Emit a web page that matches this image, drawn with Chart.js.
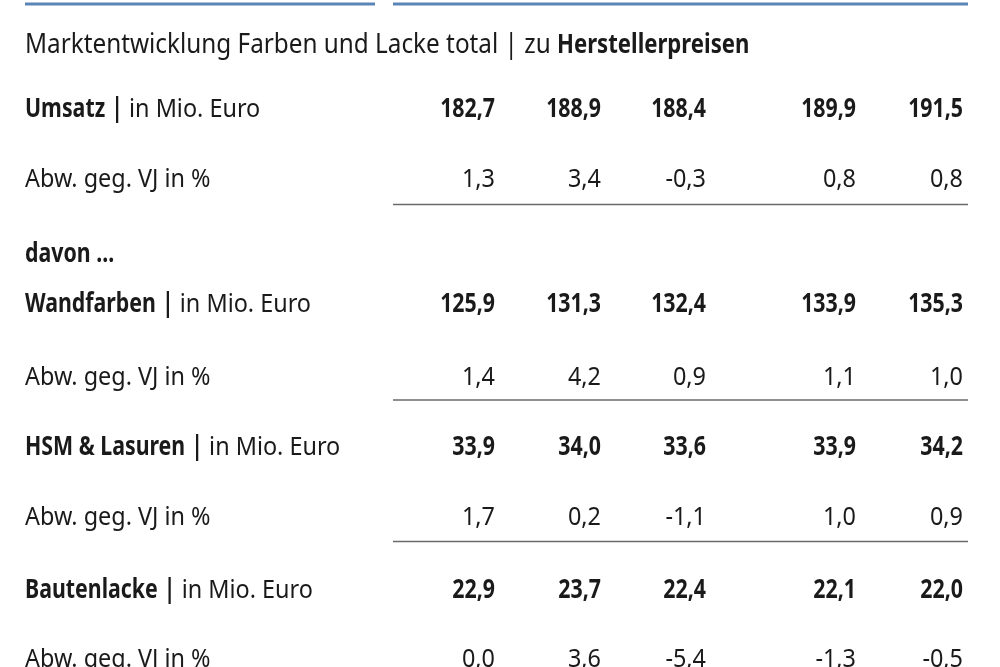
<!DOCTYPE html>
<html><head><meta charset="utf-8">
<script src="https://cdn.jsdelivr.net/npm/chart.js@4"></script>
<style>html,body{margin:0;padding:0;background:#fff}#w{width:1000px;height:667px}</style>
</head><body><div id="w"><canvas id="c"></canvas></div>
<script>
const title = ["Marktentwicklung Farben und Lacke total | zu ", "Herstellerpreisen"];
const rowLabels = [
  ["Umsatz", " | in Mio. Euro"],
  ["", "Abw. geg. VJ in %"],
  ["davon ...", ""],
  ["Wandfarben", " | in Mio. Euro"],
  ["", "Abw. geg. VJ in %"],
  ["HSM & Lasuren", " | in Mio. Euro"],
  ["", "Abw. geg. VJ in %"],
  ["Bautenlacke", " | in Mio. Euro"],
  ["", "Abw. geg. VJ in %"]
];
const umsatz     = [182.7, 188.9, 188.4, 189.9, 191.5];
const umsatzAbw  = [1.3, 3.4, -0.3, 0.8, 0.8];
const wand       = [125.9, 131.3, 132.4, 133.9, 135.3];
const wandAbw    = [1.4, 4.2, 0.9, 1.1, 1.0];
const hsm        = [33.9, 34.0, 33.6, 33.9, 34.2];
const hsmAbw     = [1.7, 0.2, -1.1, 1.0, 0.9];
const bauten     = [22.9, 23.7, 22.4, 22.1, 22.0];
const bautenAbw  = [0.0, 3.6, -5.4, -1.3, -0.5];
const rowValues = [umsatz, umsatzAbw, null, wand, wandAbw, hsm, hsmAbw, bauten, bautenAbw];
const rowBold   = [true, false, false, true, false, true, false, true, false];

// layout
const colX = [495, 601, 706, 856, 963];
const rowY = [110, 180, 255, 305, 378, 448, 518, 591, 660];
const sepAfter = [1, 4, 6];
const FONT = '"Noto Sans", sans-serif';

const points = [];
rowValues.forEach((vals, r) => { if (vals) vals.forEach((v, c) => points.push({x: colX[c], y: rowY[r], v, bold: rowBold[r]})); });

const fmt = v => v.toFixed(1).replace('.', ',');

function drawText(ctx, str, x, y, bold, align, size) {
  const sx = bold ? 0.82 : 0.9;
  ctx.save();
  ctx.font = (bold ? '700 ' : '400 ') + (size || 26) + 'px ' + FONT;
  ctx.translate(x, y);
  ctx.scale(sx, 1);
  ctx.textAlign = align; ctx.textBaseline = 'middle';
  ctx.fillText(str, 0, 0);
  const w = ctx.measureText(str).width * sx;
  ctx.restore();
  return w;
}

const tablePlugin = {
  id: 'table',
  afterDatasetsDraw(chart) {
    const ctx = chart.ctx, xs = chart.scales.x, ys = chart.scales.y;
    ctx.save();
    ctx.fillStyle = '#1a1a1a';
    ctx.strokeStyle = '#5b85b5'; ctx.lineWidth = 3;
    ctx.beginPath();
    ctx.moveTo(xs.getPixelForValue(25), ys.getPixelForValue(4)); ctx.lineTo(xs.getPixelForValue(375), ys.getPixelForValue(4));
    ctx.moveTo(xs.getPixelForValue(393), ys.getPixelForValue(4)); ctx.lineTo(xs.getPixelForValue(968), ys.getPixelForValue(4));
    ctx.stroke();
    let w = drawText(ctx, title[0], 25, ys.getPixelForValue(45), false, 'left', 27);
    drawText(ctx, title[1], 25 + w, ys.getPixelForValue(45), true, 'left', 27);
    rowLabels.forEach((l, r) => {
      const y = ys.getPixelForValue(rowY[r]);
      let x = 25;
      if (l[0]) x += drawText(ctx, l[0], x, y, true, 'left');
      if (l[1]) {
        if (l[1].startsWith(' | ')) {
          x += drawText(ctx, ' ', x, y, false, 'left');
          x += drawText(ctx, '|', x, y, true, 'left');
          drawText(ctx, l[1].slice(2), x, y, false, 'left');
        } else drawText(ctx, l[1], x, y, false, 'left');
      }
    });
    const meta = chart.getDatasetMeta(0);
    meta.data.forEach((el, i) => {
      const p = points[i];
      drawText(ctx, fmt(p.v), el.x, el.y, p.bold, 'right');
    });
    ctx.strokeStyle = '#6a6a6a'; ctx.lineWidth = 1.5;
    sepAfter.forEach(r => {
      const y = ys.getPixelForValue((rowY[r] + rowY[r + 1]) / 2 - 13);
      ctx.beginPath(); ctx.moveTo(xs.getPixelForValue(393), y); ctx.lineTo(xs.getPixelForValue(968), y); ctx.stroke();
    });
    ctx.restore();
  }
};

new Chart(document.getElementById('c'), {
  type: 'scatter',
  data: { datasets: [{ data: points, pointRadius: 0, pointHoverRadius: 0 }] },
  options: {
    responsive: true, maintainAspectRatio: false, animation: false,
    layout: { padding: 0 },
    plugins: { legend: { display: false }, tooltip: { enabled: false } },
    scales: {
      x: { type: 'linear', min: 0, max: 1000, display: false },
      y: { type: 'linear', min: 0, max: 667, reverse: true, display: false }
    }
  },
  plugins: [tablePlugin]
});
</script></body></html>
